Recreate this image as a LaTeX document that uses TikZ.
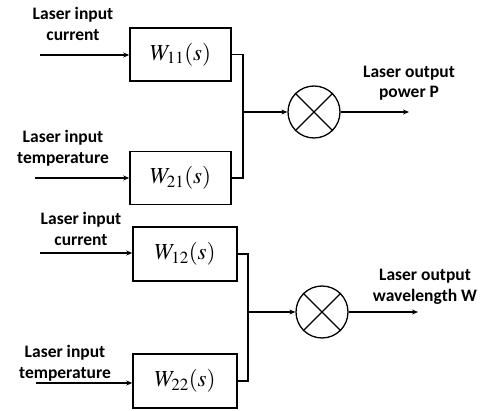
\documentclass[tikz,border=0pt]{standalone}
\usepackage{mathptmx}
\usepackage{fontspec}
\newfontfamily\carl{Carlito}
\usetikzlibrary{arrows.meta}
\tikzset{
  blk/.style={draw,line width=1.6pt,minimum width=101pt,minimum height=53pt,inner sep=0pt,font=\fontsize{23}{25}\selectfont},
  lbl/.style={align=center,font=\carl\bfseries\fontsize{17.5}{20.5}\selectfont,inner sep=0pt},
  con/.style={line width=1.3pt},
  arr/.style={con,-{Stealth[length=6pt,width=5pt]}},
  mult/.style={draw,circle,line width=1.3pt,minimum size=52pt,inner sep=0pt}
}
\begin{document}
\begin{tikzpicture}[x=1pt,y=-1pt]
\useasboundingbox (0,0) rectangle (485,411);
% top
\node[blk] (b11) at (180.5,54.5) {$W_{11}(s)$};
\node[blk] (b21) at (180.5,178) {$W_{21}(s)$};
\coordinate (i11) at (40,55);
\coordinate (i21) at (35,178);
\draw[arr] (i11) -- (i11 -| b11.west);
\draw[arr] (i21) -- (i21 -| b21.west);
\node[lbl] (l11) at (73,24) {Laser input\\current};
\node[lbl] (l21) at (63,148) {Laser input\\temperature};
\coordinate (j1) at (243,112);
\draw[con] (b11.east) -| (j1) |- (b21.east);
\node[mult] (c1) at (314,112) {};
\draw[con] (c1.north west) -- (c1.south east) (c1.north east) -- (c1.south west);
\draw[arr] (j1) -- (c1.west);
\coordinate (o1) at (409,112);
\draw[arr] (c1.east) -- (o1);
\node[lbl] (lo1) at (409,83) {Laser output\\power P};
% bottom
\node[blk,minimum width=104pt,minimum height=54pt] (b12) at (185,254) {$W_{12}(s)$};
\node[blk,minimum width=104pt,minimum height=54pt] (b22) at (185,381) {$W_{22}(s)$};
\coordinate (i12) at (40,253);
\coordinate (i22) at (36,383);
\draw[arr] (i12) -- (i12 -| b12.west);
\draw[arr] (i22) -- (i22 -| b22.west);
\node[lbl] (l12) at (81,229) {Laser input\\current};
\node[lbl] (l22) at (65,363) {Laser input\\temperature};
\coordinate (j2) at (248,312);
\draw[con] (b12.east) -| (j2) |- (b22.east);
\node[mult] (c2) at (322,312) {};
\draw[con] (c2.north west) -- (c2.south east) (c2.north east) -- (c2.south west);
\draw[arr] (j2) -- (c2.west);
\coordinate (o2) at (418,312);
\draw[arr] (c2.east) -- (o2);
\node[lbl] (lo2) at (425,287) {Laser output\\wavelength W};
\end{tikzpicture}
\end{document}
